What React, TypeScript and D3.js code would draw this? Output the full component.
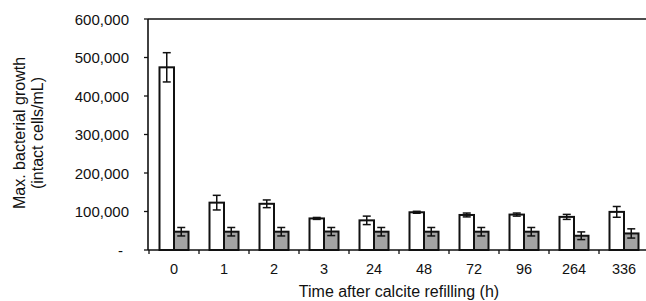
import React from "react";
import * as d3 from "d3";

const categories = ["0", "1", "2", "3", "24", "48", "72", "96", "264", "336"];
const whiteValues = [474500, 123000, 120000, 82000, 77000, 98000, 91000, 92000, 86000, 99000];
const whiteErrors = [38000, 19000, 10000, 2500, 11000, 2500, 5000, 4000, 6500, 14000];
const grayValues = [47500, 47500, 47500, 48000, 47500, 47500, 47500, 47500, 37000, 43000];
const grayErrors = [11000, 11000, 11000, 10500, 11000, 11000, 11000, 11000, 10000, 12000];
const yTicks = [0, 100000, 200000, 300000, 400000, 500000, 600000];

const W = 646;
const H = 301;
const FONT = "'Liberation Sans', Arial, sans-serif";

export default function App() {
  const y = d3.scaleLinear().domain([0, 600000]).range([250, 19]);
  const x = d3
    .scaleBand<string>()
    .domain(categories)
    .range([149, 649])
    .paddingInner(0.42)
    .paddingOuter(0.21);
  const bw = x.bandwidth() / 2;
  const step = x.step();
  const axisX = 148;
  const fmt = (v: number) => (v === 0 ? "-" : d3.format(",")(v));

  const series = [
    { values: whiteValues, errors: whiteErrors, fill: "#ffffff", off: 0 },
    { values: grayValues, errors: grayErrors, fill: "#a3a3a3", off: bw },
  ];

  return (
    <svg
      width={W}
      height={H}
      style={{ position: "absolute", left: 0, top: 0, background: "#fff" }}
      fontFamily={FONT}
    >
      {/* top border */}
      <line x1={axisX} x2={W} y1={y(600000)} y2={y(600000)} stroke="#111" strokeWidth={1.6} />
      {/* bars */}
      {series.map((s, si) =>
        categories.map((c, i) => {
          const bx = (x(c) as number) + s.off;
          const v = s.values[i];
          const e = s.errors[i];
          const cx = bx + bw / 2;
          return (
            <g key={`${si}-${c}`}>
              <rect
                x={bx}
                y={y(v)}
                width={bw}
                height={y(0) - y(v)}
                fill={s.fill}
                stroke="#111"
                strokeWidth={2}
              />
              <line x1={cx} x2={cx} y1={y(v + e)} y2={y(v - e)} stroke="#111" strokeWidth={1.5} />
              <line x1={cx - 4} x2={cx + 4} y1={y(v + e)} y2={y(v + e)} stroke="#111" strokeWidth={1.5} />
              <line x1={cx - 4} x2={cx + 4} y1={y(v - e)} y2={y(v - e)} stroke="#111" strokeWidth={1.5} />
            </g>
          );
        })
      )}
      {/* y axis */}
      <line x1={axisX} x2={axisX} y1={y(600000)} y2={y(0)} stroke="#111" strokeWidth={1.6} />
      {yTicks.map((t) => (
        <g key={t}>
          <line x1={axisX - 4} x2={axisX} y1={y(t)} y2={y(t)} stroke="#111" strokeWidth={1.3} />
          <text
            x={t === 0 ? 123 : 129}
            y={y(t) + 5.5}
            textAnchor="end"
            fontSize={15}
            fill="#111"
          >
            {fmt(t)}
          </text>
        </g>
      ))}
      {/* x axis */}
      <line x1={axisX} x2={W} y1={y(0)} y2={y(0)} stroke="#111" strokeWidth={1.6} />
      {categories.map((c) => (
        <g key={c}>
          <line
            x1={(x(c) as number) - step * 0.21}
            x2={(x(c) as number) - step * 0.21}
            y1={y(0)}
            y2={y(0) + 4}
            stroke="#111"
            strokeWidth={1.3}
          />
          <text
            x={(x(c) as number) + x.bandwidth() / 2}
            y={274}
            textAnchor="middle"
            fontSize={14.5}
            fill="#111"
          >
            {c}
          </text>
        </g>
      ))}
      <text x={399} y={297} textAnchor="middle" fontSize={16} fill="#111">
        Time after calcite refilling (h)
      </text>
      <g transform="translate(25,133) rotate(-90)">
        <text x={0} y={0} textAnchor="middle" fontSize={16} fill="#111">
          Max. bacterial growth
        </text>
        <text x={0} y={17.5} textAnchor="middle" fontSize={16} fill="#111">
          (intact cells/mL)
        </text>
      </g>
    </svg>
  );
}
